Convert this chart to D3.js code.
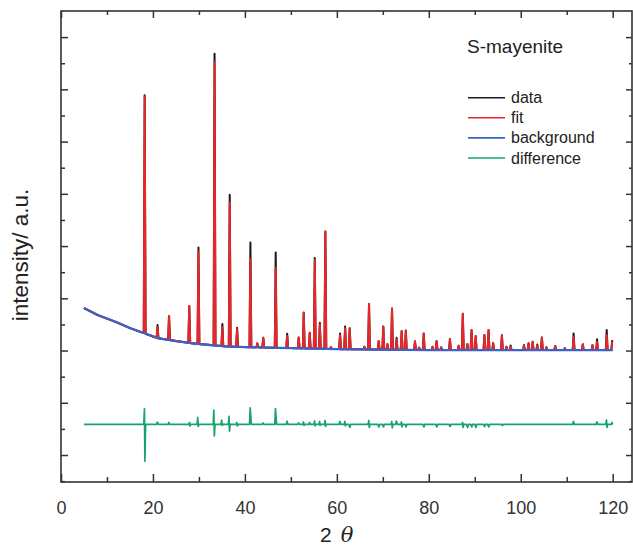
<!DOCTYPE html>
<html><head><meta charset="utf-8">
<script src="https://cdn.jsdelivr.net/npm/d3@7"></script>
<style>
html,body{margin:0;padding:0;background:#fff;}
svg{display:block;font-family:Arial,"Liberation Sans",Helvetica,sans-serif;}
</style></head>
<body>
<svg id="c" width="633" height="552"></svg>
<script>
// ---- data (2θ in degrees, intensity in arbitrary counts) ----
const scanRange = [5, 120];
const bgX = [5, 8, 12, 15, 18, 21, 25, 30, 35, 40, 50, 60, 80, 120];
const bgY = [5626, 5358, 5090, 4860, 4669, 4478, 4363, 4248, 4171, 4133, 4095, 4056, 4018, 4018];

const peakPos = [18.2, 21.0, 23.5, 27.9, 29.9, 33.4, 35.1, 36.7, 38.3, 41.2, 42.7, 44.0, 46.7, 49.2, 51.7, 52.8, 54.1, 55.2, 56.3, 57.5,
  58.7, 60.7, 61.8, 62.8, 66.0, 67.0, 69.1, 70.1, 71.0, 72.0, 73.0, 74.1, 75.0, 77.0, 77.9, 78.9, 80.8, 81.7, 82.7, 84.6,
  86.5, 87.4, 88.4, 89.3, 90.2, 92.1, 93.0, 94.0, 95.9, 96.9, 97.8, 100.7, 101.7, 102.6, 103.6, 104.6, 105.6, 107.5, 109.6, 111.5,
  113.5, 115.6, 116.6, 118.7, 119.9];
const peakObs = [13777, 4975, 5320, 5702, 7941, 15365, 5013, 9969, 4872, 8140, 4275, 4489, 7757, 4642, 4504, 5461, 4680, 7539, 5063, 8561,
  4133, 4657, 4925, 4849, 4145, 5779, 4363, 4925, 4248, 5614, 4489, 4746, 4765, 4355, 4114, 4657, 4145, 4363, 4122, 4439,
  4183, 5408, 4248, 4784, 4554, 4592, 4784, 4286, 4585, 4145, 4191, 4210, 4275, 4336, 4229, 4504, 4122, 4171, 4095, 4657,
  4240, 4210, 4432, 4784, 4401];
const peakCalc = [13739, 4899, 5320, 5702, 7788, 15051, 4899, 9682, 4811, 7501, 4275, 4489, 7157, 4554, 4504, 5434, 4680, 7463, 5002, 8561,
  4133, 4592, 4849, 4849, 4145, 5779, 4363, 4925, 4248, 5614, 4428, 4746, 4765, 4355, 4114, 4657, 4145, 4363, 4122, 4439,
  4183, 5408, 4248, 4784, 4554, 4592, 4784, 4286, 4585, 4145, 4145, 4210, 4275, 4336, 4183, 4504, 4122, 4171, 4095, 4516,
  4240, 4210, 4324, 4592, 4344];

const diffOffset = 1170;
const diffPos  = [18.2, 21.0, 23.5, 28.0, 29.8, 33.3, 35.0, 36.6, 38.3, 41.2, 44.0, 46.7, 49.2, 51.7, 52.8, 54.1, 55.2, 56.3, 57.5, 60.7,
  61.8, 62.8, 67.0, 69.1, 70.1, 72.0, 73.0, 74.1, 75.0, 78.9, 81.7, 84.6, 87.4, 88.4, 89.3, 90.2, 92.1, 93.0, 96.0, 111.5,
  116.6, 118.7, 119.9];
const diffUp   = [601, 90, 77, 77, 268, 547, 165, 306, 77, 639, 57, 612, 126, 57, 96, 77, 134, 115, 153, 115,
  115, 0, 153, 0, 0, 115, 134, 96, 0, 0, 0, 0, 77, 0, 0, 0, 0, 0, 0, 115,
  96, 172, 77];
const diffDown = [1405, 0, 0, 60, 77, 440, 40, 256, 60, 0, 0, 0, 0, 0, 40, 0, 57, 40, 77, 0,
  57, 115, 115, 96, 96, 134, 0, 96, 96, 96, 96, 77, 115, 115, 96, 115, 77, 96, 40, 0,
  0, 115, 0];

const xMajor = [0, 20, 40, 60, 80, 100, 120];
const xMinor = [10, 30, 50, 70, 90, 110];
const yMajor = [0, 2000, 4000, 6000, 8000, 10000, 12000, 14000, 16000];
const yMinor = [-1000, 1000, 3000, 5000, 7000, 9000, 11000, 13000, 15000];

const seriesNames = ["data", "fit", "background", "difference"];
const seriesColors = ["#1a1a1a", "#e8262a", "#3b62c6", "#17a36c"];
const title = "S-mayenite";

// ---- drawing ----
const L = 61, R = 632, T = 11, B = 482;
const x = d3.scaleLinear().domain([0, 124.2]).range([L, R]);
const y = d3.scaleLinear().domain([-1033, 17000]).range([B, T]);
const svg = d3.select("#c");
const ink = "#333";

const bgAt = (t) => {
  const i = Math.max(1, Math.min(bgX.length - 1, d3.bisectRight(bgX, t)));
  const t0 = bgX[i - 1], t1 = bgX[i];
  return bgY[i - 1] + (bgY[i] - bgY[i - 1]) * (t - t0) / (t1 - t0);
};

const foot = 0.2;
function profile(tops) {
  const pts = [];
  bgX.forEach((t, i) => {
    if (!peakPos.some(p => Math.abs(p - t) < foot + 0.05)) pts.push([t, bgY[i]]);
  });
  peakPos.forEach((p, i) => {
    pts.push([p - foot, bgAt(p - foot)]);
    pts.push([p, tops[i]]);
    if (p + foot <= scanRange[1]) pts.push([p + foot, bgAt(p + foot)]);
  });
  pts.sort((a, b) => a[0] - b[0]);
  return pts.filter(d => d[0] >= scanRange[0] && d[0] <= scanRange[1]);
}

const line = d3.line().x(d => x(d[0])).y(d => y(d[1]));
const plot = svg.append("g");

plot.append("path").attr("d", line(profile(peakObs)))
  .attr("fill", "none").attr("stroke", seriesColors[0]).attr("stroke-width", 2).attr("stroke-linejoin", "round");
plot.append("path").attr("d", line(profile(peakCalc)))
  .attr("fill", "none").attr("stroke", seriesColors[1]).attr("stroke-width", 2).attr("stroke-linejoin", "round");
plot.append("path").attr("d", line(bgX.map((t, i) => [t, bgY[i]])))
  .attr("fill", "none").attr("stroke", seriesColors[2]).attr("stroke-width", 2.2);

const dpts = [[scanRange[0], 0]];
diffPos.forEach((p, i) => {
  dpts.push([p - 0.2, 0]);
  if (diffUp[i]) dpts.push([p - 0.05, diffUp[i]]);
  if (diffDown[i]) dpts.push([p + 0.05, -diffDown[i]]);
  if (p + 0.2 < scanRange[1]) dpts.push([p + 0.2, 0]);
});
dpts.push([scanRange[1], 0]);
plot.append("path").attr("d", line(dpts.map(d => [d[0], d[1] + diffOffset])))
  .attr("fill", "none").attr("stroke", seriesColors[3]).attr("stroke-width", 1.7).attr("stroke-linejoin", "round");

function styleAxis(g) {
  g.select(".domain").remove();
  g.selectAll(".tick line").attr("stroke", ink).attr("stroke-width", 1.5);
  g.selectAll(".tick text").attr("fill", ink).attr("font-size", 18).attr("font-family", "Arial, 'Liberation Sans', sans-serif");
}
svg.append("g").attr("transform", `translate(0,${B})`)
  .call(d3.axisBottom(x).tickValues(xMajor).tickSize(-8).tickPadding(19).tickFormat(d3.format("d"))).call(styleAxis);
svg.append("g").attr("transform", `translate(0,${B})`)
  .call(d3.axisBottom(x).tickValues(xMinor).tickSize(-5).tickFormat("")).call(styleAxis);
svg.append("g").attr("transform", `translate(0,${T})`)
  .call(d3.axisTop(x).tickValues(xMajor).tickSize(-7).tickFormat("")).call(styleAxis);
svg.append("g").attr("transform", `translate(0,${T})`)
  .call(d3.axisTop(x).tickValues(xMinor).tickSize(-4).tickFormat("")).call(styleAxis);
svg.append("g").attr("transform", `translate(${L},0)`)
  .call(d3.axisLeft(y).tickValues(yMajor).tickSize(-7).tickFormat("")).call(styleAxis);
svg.append("g").attr("transform", `translate(${L},0)`)
  .call(d3.axisLeft(y).tickValues(yMinor).tickSize(-4).tickFormat("")).call(styleAxis);
svg.append("g").attr("transform", `translate(${R},0)`)
  .call(d3.axisRight(y).tickValues(yMajor).tickSize(-6).tickFormat("")).call(styleAxis);
svg.append("g").attr("transform", `translate(${R},0)`)
  .call(d3.axisRight(y).tickValues(yMinor).tickSize(-3).tickFormat("")).call(styleAxis);

svg.append("rect").attr("x", L).attr("y", T).attr("width", R - L).attr("height", B - T)
  .attr("fill", "none").attr("stroke", ink).attr("stroke-width", 1.6);

const xt = svg.append("text").attr("x", 320).attr("y", 542).attr("fill", "#222").attr("font-size", 21);
xt.append("tspan").text("2");
xt.append("tspan").attr("dx", 9).attr("font-style", "italic").attr("font-family", "'DejaVu Serif', 'Liberation Serif', serif").text("θ");

svg.append("text").attr("transform", "translate(28,255) rotate(-90)").attr("text-anchor", "middle")
  .attr("fill", "#222").attr("font-size", 22.5).text("intensity/ a.u.");

svg.append("text").attr("x", 467).attr("y", 53).attr("fill", "#222").attr("font-size", 19).text(title);
const lg = svg.append("g");
seriesNames.forEach((n, i) => {
  const yy = 97.7 + i * 20.1;
  lg.append("line").attr("x1", 468).attr("x2", 505).attr("y1", yy).attr("y2", yy)
    .attr("stroke", seriesColors[i]).attr("stroke-width", 1.6);
  lg.append("text").attr("x", 511).attr("y", yy + 5.5).attr("fill", "#222").attr("font-size", 16).text(n);
});
</script>
</body></html>
